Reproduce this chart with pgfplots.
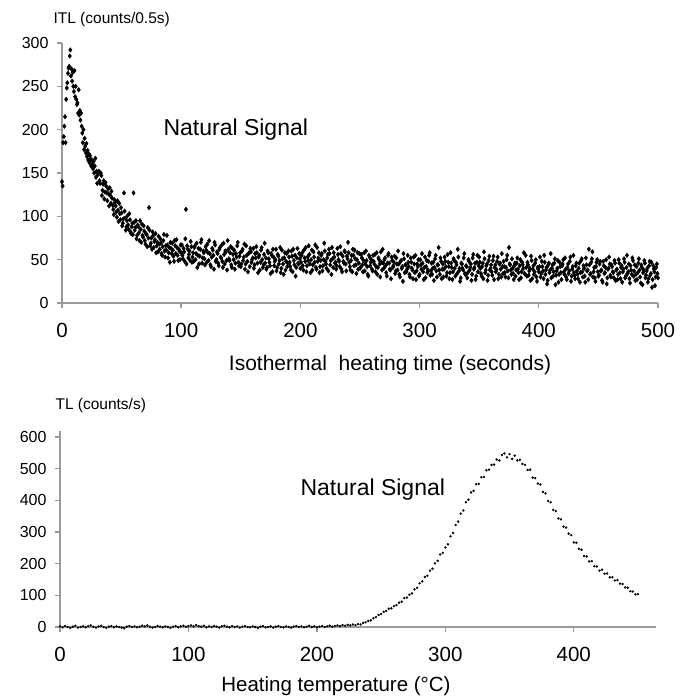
\documentclass[border=0pt]{standalone}
\usepackage{fontspec}
\setmainfont{Liberation Sans}
\usepackage{pgfplots}
\pgfplotsset{compat=1.18}
\definecolor{axgray}{HTML}{9A9A9A}

\pgfplotsset{
  panel/.style={
    scale only axis, anchor=south west,
    axis lines*=left,
    axis line style={axgray, line width=2.4pt},
    every tick/.style={axgray, line width=1.4pt},
    tick align=outside, major tick length=5pt,
    /pgf/number format/assume math mode=true,
    xticklabel style={font=\fontsize{20.5}{24}\selectfont, yshift=-12pt},
    yticklabel style={font=\fontsize{16}{19}\selectfont, xshift=-5pt},
    clip=false,
  },
}

\begin{document}
\begin{tikzpicture}
\useasboundingbox (0,0) rectangle (692pt,697pt);

% ---- ITL panel
\begin{axis}[panel, at={(62pt,394pt)}, width=596pt, height=260pt,
  xmin=0, xmax=500, ymin=0, ymax=300,
  xtick={0,100,...,500}, ytick={0,50,...,300}]
\addplot[only marks, mark=diamond*, mark size=2.3pt, black] coordinates {
(0,140)(0.5,135)(1,185)(1.5,192)(2,204)(2.5,215)(3,185)(3.5,235)(4,248)(4.5,254)
(5,265)(5.5,271)(6,273)(6.5,285)(7,292)(7.5,262)(8,270)(8.5,256)(9,266)(9.5,250)
(10,244)(10.5,268)(11,238)(11.5,250)(12,235)(12.5,229)(13,231)(13.5,219)(14,246)(14.5,217)
(15,222)(15.5,211)(16,219)(16.5,204)(17,196)(17.5,185)(18,200)(18.5,177)(19,190)(19.5,181)
(20,173)(20.5,184)(21,169)(21.5,176)(22,165)(22.5,172)(23,162)(23.5,170)(24,166)(24.5,158)
(25,165)(25.5,160)(26,155)(26.5,163)(27,150)(27.5,158)(28,167)(28.5,145)(29,152)(29.5,138)
(30,148)
(31,152)(32,138)(33,147)(34,130)(35,141)(36,128)(37,135)(38,118)(39,126)(40,133)
(41,115)(42,121)(43,108)(44,119)(45,112)(46,99)(47,107)(48,115)(49,96)(50,104)
(51,92)(52,127)(53,98)(54,88)(55,101)(56,85)(57,96)(58,80)(59,92)(60,127)
(61,84)(62,95)(63,78)(64,88)(65,72)(66,85)(67,91)(68,76)(69,83)(70,68)
(71,79)(72,87)(73,110)(74,66)(75,75)(76,82)(77,64)(78,73)(79,58)(80,70)
(81,77)(82,62)(83,69)(84,55)(85,72)(86,60)(87,66)(88,78)(89,52)(90,64)
(91,70)(92,57)(93,61)(94,48)(95,66)(96,73)(97,55)(98,62)(99,50)(100,58)
(31.5,141)(32.5,150)(33.5,124)(34.5,137)(35.5,120)(36.5,139)(37.5,127)(38.5,132)(39.5,112)(40.5,124)
(41.5,129)(42.5,113)(43.5,102)(44.5,116)(45.5,105)(46.5,118)(47.5,94)(48.5,103)(49.5,110)(50.5,89)
(51.5,97)(52.5,106)(53.5,84)(54.5,95)(55.5,90)(56.5,103)(57.5,82)(58.5,88)(59.5,79)(60.5,93)
(61.5,87)(62.5,74)(63.5,90)(64.5,81)(65.5,95)(66.5,70)(67.5,78)(68.5,89)(69.5,72)(70.5,80)
(71.5,65)(72.5,75)(73.5,84)(74.5,69)(75.5,62)(76.5,78)(77.5,71)(78.5,80)(79.5,66)(80.5,59)
(81.5,68)(82.5,74)(83.5,57)(84.5,65)(85.5,79)(86.5,53)(87.5,61)(88.5,67)(89.5,58)(90.5,47)
(91.5,63)(92.5,69)(93.5,54)(94.5,72)(95.5,57)(96.5,64)(97.5,49)(98.5,60)(99.5,67)
(101,55)(102,63)(103,48)(104,108)(105,66)(106,52)(107,60)(108,71)(109,47)(110,58)
(111,64)(112,50)(113,69)(114,55)(115,45)(116,62)(117,73)(118,52)(119,58)(120,44)
(121,61)(122,68)(123,49)(124,57)(125,42)(126,63)(127,55)(128,70)(129,48)(130,59)
(131,46)(132,62)(133,53)(134,67)(135,41)(136,56)(137,60)(138,49)(139,72)(140,51)
(141,58)(142,44)(143,63)(144,50)(145,39)(146,57)(147,66)(148,47)(149,54)(150,42)
(151,60)(152,49)(153,68)(154,45)(155,55)(156,36)(157,58)(158,63)(159,47)(160,52)
(161,40)(162,57)(163,65)(164,46)(165,53)(166,38)(167,61)(168,50)(169,44)(170,69)
(171,52)(172,41)(173,58)(174,47)(175,34)(176,55)(177,62)(178,43)(179,50)(180,37)
(181,56)(182,45)(183,64)(184,40)(185,51)(186,33)(187,58)(188,48)(189,42)(190,60)
(191,47)(192,38)(193,54)(194,62)(195,44)(196,31)(197,52)(198,46)(199,57)(200,40)
(201,55)(202,43)(203,61)(204,48)(205,36)(206,53)(207,66)(208,45)(209,50)(210,38)
(211,59)(212,47)(213,41)(214,64)(215,52)(216,35)(217,49)(218,57)(219,43)(220,69)
(221,48)(222,40)(223,56)(224,62)(225,44)(226,33)(227,51)(228,58)(229,46)(230,39)
(231,63)(232,50)(233,42)(234,57)(235,36)(236,48)(237,60)(238,45)(239,54)(240,70)
(241,47)(242,38)(243,55)(244,62)(245,43)(246,51)(247,34)(248,58)(249,46)(250,40)
(251,56)(252,44)(253,49)(254,37)(255,60)(256,42)(257,31)(258,53)(259,47)(260,39)
(261,55)(262,45)(263,36)(264,58)(265,41)(266,50)(267,30)(268,47)(269,62)(270,40)
(271,52)(272,35)(273,46)(274,57)(275,39)(276,28)(277,49)(278,43)(279,54)(280,37)
(281,45)(282,60)(283,33)(284,48)(285,40)(286,25)(287,51)(288,44)(289,36)(290,55)
(291,42)(292,30)(293,47)(294,38)(295,53)(296,35)(297,27)(298,45)(299,50)(300,33)
(301,44)(302,57)(303,36)(304,41)(305,29)(306,49)(307,38)(308,55)(309,32)(310,46)
(311,40)(312,26)(313,51)(314,37)(315,44)(316,64)(317,33)(318,48)(319,39)(320,30)
(321,53)(322,42)(323,35)(324,47)(325,28)(326,58)(327,41)(328,36)(329,49)(330,31)
(331,44)(332,62)(333,37)(334,25)(335,46)(336,40)(337,52)(338,34)(339,43)(340,29)
(341,50)(342,38)(343,45)(344,33)(345,56)(346,41)(347,27)(348,47)(349,36)(350,53)
(351,40)(352,31)(353,46)(354,59)(355,35)(356,43)(357,26)(358,49)(359,38)(360,44)
(361,32)(362,54)(363,41)(364,36)(365,48)(366,28)(367,45)(368,39)(369,57)(370,34)
(371,42)(372,30)(373,50)(374,37)(375,64)(376,44)(377,33)(378,40)(379,27)(380,46)
(381,38)(382,52)(383,35)(384,43)(385,29)(386,47)(387,40)(388,34)(389,55)(390,31)
(391,44)(392,37)(393,26)(394,49)(395,39)(396,33)(397,46)(398,30)(399,41)(400,36)
(401,53)(402,34)(403,42)(404,28)(405,47)(406,38)(407,22)(408,44)(409,35)(410,57)
(411,40)(412,31)(413,46)(414,21)(415,37)(416,49)(417,33)(418,42)(419,27)(420,45)
(421,36)(422,52)(423,30)(424,41)(425,34)(426,48)(427,25)(428,39)(429,55)(430,32)
(431,43)(432,37)(433,28)(434,46)(435,35)(436,51)(437,30)(438,40)(439,24)(440,44)
(441,38)(442,62)(443,33)(444,47)(445,59)(446,36)(447,29)(448,42)(449,50)(450,31)
(451,45)(452,37)(453,26)(454,48)(455,34)(456,41)(457,22)(458,39)(459,53)(460,32)
(461,44)(462,36)(463,29)(464,46)(465,38)(466,27)(467,50)(468,35)(469,41)(470,24)
(471,39)(472,47)(473,31)(474,55)(475,36)(476,28)(477,43)(478,33)(479,49)(480,37)
(481,26)(482,42)(483,35)(484,51)(485,30)(486,44)(487,21)(488,38)(489,46)(490,32)
(491,40)(492,28)(493,48)(494,34)(495,18)(496,43)(497,36)(498,30)(499,45)(500,29)
(100.5,67)(101.5,51)(102.5,59)(103.5,74)(104.5,45)(105.5,62)(106.5,56)(107.5,49)(108.5,65)(109.5,53)
(110.5,48)(111.5,66)(112.5,57)(113.5,41)(114.5,63)(115.5,54)(116.5,70)(117.5,46)(118.5,60)(119.5,51)
(120.5,65)(121.5,47)(122.5,58)(123.5,72)(124.5,44)(125.5,53)(126.5,61)(127.5,39)(128.5,67)(129.5,50)
(130.5,57)(131.5,43)(132.5,64)(133.5,52)(134.5,48)(135.5,69)(136.5,45)(137.5,59)(138.5,38)(139.5,62)
(140.5,49)(141.5,65)(142.5,41)(143.5,56)(144.5,61)(145.5,46)(146.5,53)(147.5,70)(148.5,43)(149.5,58)
(150.5,45)(151.5,62)(152.5,53)(153.5,39)(154.5,66)(155.5,48)(156.5,57)(157.5,42)(158.5,59)(159.5,50)
(160.5,63)(161.5,44)(162.5,52)(163.5,58)(164.5,35)(165.5,55)(166.5,47)(167.5,64)(168.5,41)(169.5,56)
(170.5,46)(171.5,39)(172.5,60)(173.5,51)(174.5,43)(175.5,57)(176.5,36)(177.5,53)(178.5,48)(179.5,62)
(180.5,41)(181.5,54)(182.5,49)(183.5,35)(184.5,61)(185.5,45)(186.5,52)(187.5,38)(188.5,57)(189.5,46)
(190.5,53)(191.5,42)(192.5,60)(193.5,36)(194.5,49)(195.5,55)(196.5,41)(197.5,63)(198.5,45)(199.5,51)
(200.5,47)(201.5,58)(202.5,38)(203.5,52)(204.5,64)(205.5,43)(206.5,49)(207.5,56)(208.5,35)(209.5,61)
(210.5,44)(211.5,53)(212.5,67)(213.5,39)(214.5,48)(215.5,58)(216.5,42)(217.5,55)(218.5,37)(219.5,50)
(220.5,60)(221.5,45)(222.5,52)(223.5,37)(224.5,57)(225.5,49)(226.5,64)(227.5,41)(228.5,53)(229.5,47)
(230.5,43)(231.5,56)(232.5,48)(233.5,65)(234.5,39)(235.5,54)(236.5,46)(237.5,59)(238.5,37)(239.5,51)
(240.5,58)(241.5,42)(242.5,49)(243.5,36)(244.5,55)(245.5,61)(246.5,44)(247.5,50)(248.5,39)(249.5,57)
(250.5,41)(251.5,52)(252.5,36)(253.5,58)(254.5,45)(255.5,49)(256.5,33)(257.5,55)(258.5,43)(259.5,50)
(260.5,37)(261.5,48)(262.5,56)(263.5,42)(264.5,33)(265.5,52)(266.5,45)(267.5,59)(268.5,38)(269.5,46)
(270.5,50)(271.5,43)(272.5,31)(273.5,55)(274.5,46)(275.5,38)(276.5,53)(277.5,41)(278.5,47)(279.5,34)
(280.5,52)(281.5,38)(282.5,45)(283.5,30)(284.5,49)(285.5,42)(286.5,57)(287.5,35)(288.5,44)(289.5,39)
(290.5,47)(291.5,33)(292.5,52)(293.5,40)(294.5,28)(295.5,45)(296.5,55)(297.5,37)(298.5,42)(299.5,31)
(300.5,50)(301.5,39)(302.5,46)(303.5,27)(304.5,53)(305.5,42)(306.5,35)(307.5,48)(308.5,58)(309.5,37)
(310.5,33)(311.5,47)(312.5,41)(313.5,55)(314.5,30)(315.5,44)(316.5,38)(317.5,52)(318.5,28)(319.5,45)
(320.5,39)(321.5,48)(322.5,31)(323.5,56)(324.5,42)(325.5,35)(326.5,46)(327.5,27)(328.5,51)(329.5,40)
(330.5,47)(331.5,34)(332.5,53)(333.5,40)(334.5,29)(335.5,45)(336.5,38)(337.5,57)(338.5,33)(339.5,42)
(340.5,35)(341.5,48)(342.5,41)(343.5,26)(344.5,52)(345.5,39)(346.5,46)(347.5,31)(348.5,55)(349.5,43)
(350.5,47)(351.5,34)(352.5,42)(353.5,28)(354.5,51)(355.5,38)(356.5,45)(357.5,32)(358.5,54)(359.5,40)
(360.5,36)(361.5,49)(362.5,27)(363.5,44)(364.5,39)(365.5,53)(366.5,33)(367.5,46)(368.5,30)(369.5,42)
(370.5,48)(371.5,35)(372.5,41)(373.5,55)(374.5,29)(375.5,45)(376.5,38)(377.5,51)(378.5,34)(379.5,43)
(380.5,31)(381.5,46)(382.5,39)(383.5,27)(384.5,50)(385.5,36)(386.5,44)(387.5,58)(388.5,33)(389.5,41)
(390.5,47)(391.5,32)(392.5,40)(393.5,54)(394.5,28)(395.5,43)(396.5,36)(397.5,50)(398.5,25)(399.5,39)
(400.5,42)(401.5,30)(402.5,48)(403.5,37)(404.5,55)(405.5,33)(406.5,41)(407.5,26)(408.5,46)(409.5,38)
(410.5,29)(411.5,44)(412.5,36)(413.5,51)(414.5,32)(415.5,40)(416.5,24)(417.5,47)(418.5,35)(419.5,43)
(420.5,50)(421.5,33)(422.5,39)(423.5,27)(424.5,45)(425.5,37)(426.5,53)(427.5,31)(428.5,42)(429.5,35)
(430.5,28)(431.5,46)(432.5,33)(433.5,40)(434.5,24)(435.5,49)(436.5,36)(437.5,43)(438.5,31)(439.5,52)
(440.5,37)(441.5,27)(442.5,44)(443.5,34)(444.5,51)(445.5,30)(446.5,41)(447.5,25)(448.5,47)(449.5,36)
(450.5,32)(451.5,48)(452.5,38)(453.5,24)(454.5,43)(455.5,35)(456.5,50)(457.5,29)(458.5,40)(459.5,45)
(460.5,30)(461.5,42)(462.5,35)(463.5,49)(464.5,26)(465.5,39)(466.5,33)(467.5,46)(468.5,28)(469.5,43)
(470.5,36)(471.5,51)(472.5,29)(473.5,41)(474.5,34)(475.5,45)(476.5,23)(477.5,38)(478.5,52)(479.5,31)
(480.5,44)(481.5,33)(482.5,27)(483.5,46)(484.5,38)(485.5,23)(486.5,41)(487.5,35)(488.5,49)(489.5,29)
(490.5,37)(491.5,24)(492.5,43)(493.5,32)(494.5,47)(495.5,27)(496.5,39)(497.5,20)(498.5,41)(499.5,34)
};
\end{axis}

% ---- TL panel
\begin{axis}[panel, at={(60pt,70pt)}, width=596pt, height=196.3pt,
  xmin=0, xmax=464, ymin=0, ymax=620,
  xtick={0,100,...,400}, ytick={0,100,...,600}]
\addplot[only marks, mark=*, mark size=1pt, black] coordinates {
(0,2)(2,-1)(4,3)(6,0)(8,-3)(10,1)(12,4)(14,-2)(16,0)(18,2)(20,-1)(22,3)(24,5)(26,1)(28,-2)
(30,2)(32,4)(34,0)(36,-3)(38,1)(40,3)(42,-1)(44,2)(46,0)(48,-2)(50,-4)(52,1)(54,3)(56,0)(58,2)
(60,-1)(62,1)(64,4)(66,2)(68,5)(70,1)(72,-2)(74,0)(76,3)(78,1)(80,-1)(82,2)(84,0)(86,-3)(88,1)
(90,3)(92,-1)(94,2)(96,4)(98,1)(100,3)(102,5)(104,2)(106,6)(108,3)(110,1)(112,4)(114,-1)(116,2)
(118,0)(120,3)(122,1)(124,-2)(126,2)(128,4)(130,1)(132,-1)(134,3)(136,0)(138,2)(140,-2)(142,1)
(144,3)(146,0)(148,-1)(150,2)(152,0)(154,-3)(156,1)(158,3)(160,-1)(162,0)(164,2)(166,-2)(168,1)
(170,3)(172,0)(174,-1)(176,2)(178,0)(180,-2)(182,1)(184,3)(186,0)(188,2)(190,-1)(192,1)(194,4)
(196,0)(198,2)(200,-1)(202,1)(204,3)(206,0)(208,2)(210,4)(212,1)(214,3)(216,5)(218,3)(220,6)
(222,4)(224,7)(226,5)(228,8)
(230,6)(232,9)(234,8)(236,13)(238,15)(240,19)(242,21)(244,28)(246,31)(248,38)(250,41)(252,48)
(254,51)(256,58)(258,59)(260,66)(262,69)(264,77)(266,80)(268,91)(270,93)(272,102)(274,106)
(276,119)(278,124)(280,138)(282,144)(284,158)(286,162)(288,178)(290,184)(292,201)(294,209)
(296,229)(298,234)(300,251)(302,261)(304,286)(306,297)(308,322)(310,333)(312,358)(314,368)
(316,394)(318,402)(320,425)(322,430)(324,451)(326,452)(328,473)(330,474)(332,495)(334,497)
(336,512)(338,513)(340,529)(342,526)(344,543)(346,548)(348,536)(350,546)(352,531)(354,541)
(356,526)(358,528)(360,515)(362,512)(364,496)(366,497)(368,472)(370,470)(372,453)(374,450)
(376,427)(378,422)(380,398)(382,394)(384,370)(386,366)(388,343)(390,340)(392,317)(394,314)
(396,295)(398,290)(400,267)(402,266)(404,247)(406,244)(408,224)(410,223)(412,207)(414,208)
(416,192)(418,191)(420,178)(422,181)(424,168)(426,169)(428,157)(430,157)(432,147)(434,148)
(436,137)(438,136)(440,125)(442,124)(444,113)(446,112)(448,103)(450,104)
};
\end{axis}

\node[anchor=west, font=\fontsize{15.5}{18}\selectfont] at (50pt,678pt) {ITL (counts/0.5s)};
\node[anchor=west, font=\fontsize{23}{27}\selectfont] at (160pt,567pt) {Natural Signal};
\node[font=\fontsize{21}{25}\selectfont] at (390pt,332pt) {Isothermal\ \ heating time (seconds)};
\node[anchor=west, font=\fontsize{15.5}{18}\selectfont] at (52pt,292pt) {TL (counts/s)};
\node[anchor=west, font=\fontsize{23}{27}\selectfont] at (297pt,207pt) {Natural Signal};
\node[font=\fontsize{20.5}{24}\selectfont] at (336pt,11pt) {Heating temperature (°C)};
\end{tikzpicture}
\end{document}
